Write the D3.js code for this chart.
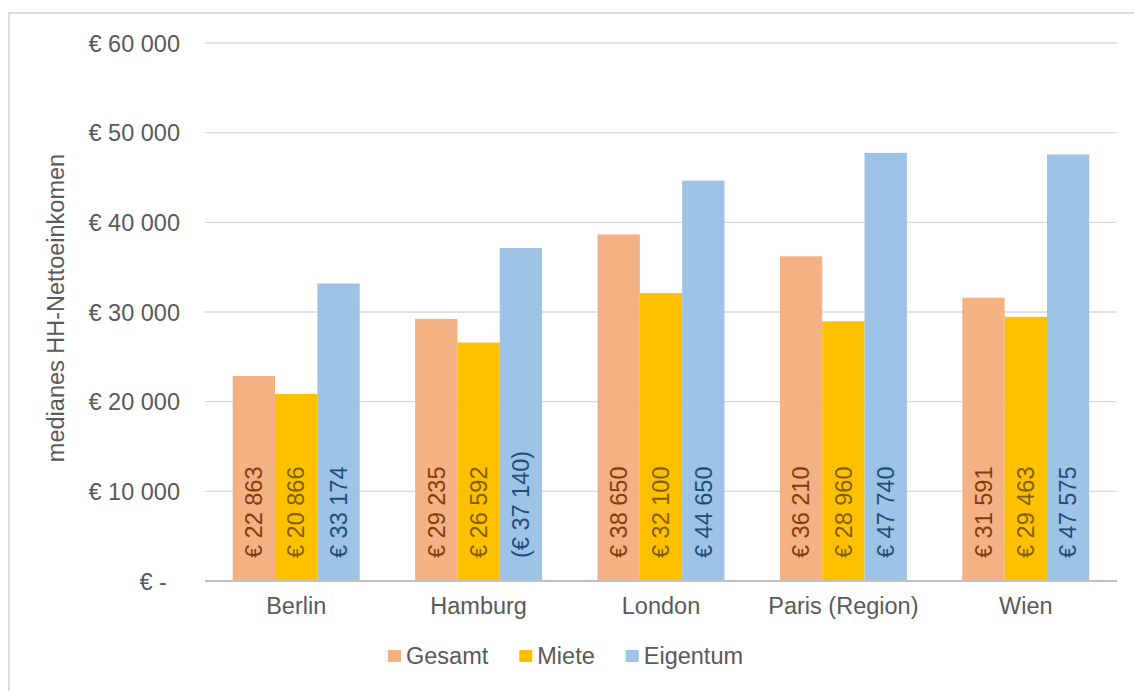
<!DOCTYPE html>
<html>
<head>
<meta charset="utf-8">
<script src="https://cdn.jsdelivr.net/npm/d3@7"></script>
<style>
  html, body { margin: 0; padding: 0; background: #fff; }
  svg { display: block; font-family: Arial, "Liberation Sans", sans-serif; }
</style>
</head>
<body>
<div id="chart"></div>
<script>
// Daten
const cities = ["Berlin", "Hamburg", "London", "Paris (Region)", "Wien"];
const seriesNames = ["Gesamt", "Miete", "Eigentum"];
const gesamt = [22863, 29235, 38650, 36210, 31591];
const miete = [20866, 26592, 32100, 28960, 29463];
const eigentum = [33174, 37140, 44650, 47740, 47575];
const eigentumLabels = ["€ 33 174", "(€ 37 140)", "€ 44 650", "€ 47 740", "€ 47 575"];
const yTicks = [0, 10000, 20000, 30000, 40000, 50000, 60000];

const colors = { Gesamt: "#f4b183", Miete: "#ffc000", Eigentum: "#9dc3e6" };
const labelColors = { Gesamt: "#843c0c", Miete: "#7f6000", Eigentum: "#1f4e79" };

const W = 1134, H = 691;
const fs = 23.5;
const fmt = v => v === 0 ? "€ -\u00a0\u00a0" : "€ " + d3.format(",")(v).replace(/,/g, " ");

const svg = d3.select("#chart").append("svg")
    .attr("width", W)
    .attr("height", H);

// Rahmen
svg.append("rect")
    .attr("x", 9).attr("y", 13)
    .attr("width", 1300).attr("height", 900)
    .attr("fill", "none")
    .attr("stroke", "#d9d9d9")
    .attr("stroke-width", 1.8);

const plot = { left: 205, right: 1117, top: 43, bottom: 581 };

const x0 = d3.scaleBand()
    .domain(cities)
    .range([plot.left, plot.right])
    .paddingInner(0.304)
    .paddingOuter(0.152);

const x1 = d3.scaleBand()
    .domain(seriesNames)
    .range([0, x0.bandwidth()]);

const y = d3.scaleLinear()
    .domain([0, 60000])
    .range([plot.bottom, plot.top]);

// Gitterlinien
svg.append("g")
    .selectAll("line")
    .data(yTicks.filter(t => t > 0))
    .enter().append("line")
    .attr("x1", plot.left).attr("x2", plot.right)
    .attr("y1", d => y(d)).attr("y2", d => y(d))
    .attr("stroke", "#d9d9d9")
    .attr("stroke-width", 1.3);

// Y-Achse Beschriftung
const yAxis = d3.axisLeft(y).tickValues(yTicks).tickFormat(fmt).tickSize(0).tickPadding(0);
const yg = svg.append("g")
    .attr("transform", "translate(180,0)")
    .call(yAxis);
yg.select(".domain").remove();
yg.selectAll("text")
    .attr("fill", "#595959")
    .style("font-size", fs + "px")
    .style("font-family", "Arial, 'Liberation Sans', sans-serif")
    .attr("dy", "0.35em");

// Achsentitel
svg.append("text")
    .attr("transform", "translate(64,308) rotate(-90)")
    .attr("text-anchor", "middle")
    .attr("fill", "#595959")
    .style("font-size", fs + "px")
    .text("medianes HH-Nettoeinkomen");

const rows = cities.map((c, i) => ({
    city: c,
    values: [
        { key: "Gesamt", value: gesamt[i], label: fmt(gesamt[i]) },
        { key: "Miete", value: miete[i], label: fmt(miete[i]) },
        { key: "Eigentum", value: eigentum[i], label: eigentumLabels[i] }
    ]
}));

const groups = svg.append("g")
    .selectAll("g")
    .data(rows)
    .enter().append("g")
    .attr("transform", d => `translate(${x0(d.city)},0)`);

// Balken
groups.selectAll("rect")
    .data(d => d.values)
    .enter().append("rect")
    .attr("x", d => x1(d.key))
    .attr("y", d => y(d.value))
    .attr("width", x1.bandwidth())
    .attr("height", d => y(0) - y(d.value))
    .attr("fill", d => colors[d.key]);

// Datenbeschriftungen
groups.selectAll("text")
    .data(d => d.values)
    .enter().append("text")
    .attr("transform", d => `translate(${x1(d.key) + x1.bandwidth() / 2},${y(0) - 23}) rotate(-90)`)
    .attr("dy", "0.35em")
    .attr("fill", d => labelColors[d.key])
    .style("font-size", fs + "px")
    .text(d => d.label);

// X-Achse
svg.append("line")
    .attr("x1", plot.left).attr("x2", plot.right)
    .attr("y1", y(0)).attr("y2", y(0))
    .attr("stroke", "#bfbfbf")
    .attr("stroke-width", 2.2);

svg.append("g")
    .selectAll("text")
    .data(cities)
    .enter().append("text")
    .attr("x", d => x0(d) + x0.bandwidth() / 2)
    .attr("y", 614)
    .attr("text-anchor", "middle")
    .attr("fill", "#595959")
    .style("font-size", fs + "px")
    .text(d => d);

// Legende
const legend = svg.append("g").attr("transform", "translate(388,656)");
let lx = 0;
seriesNames.forEach(name => {
    const item = legend.append("g").attr("transform", `translate(${lx},0)`);
    item.append("rect")
        .attr("x", 0).attr("y", -6)
        .attr("width", 13).attr("height", 12)
        .attr("fill", colors[name]);
    const t = item.append("text")
        .attr("x", 18)
        .attr("dy", "0.35em")
        .attr("fill", "#595959")
        .style("font-size", fs + "px")
        .text(name);
    lx += 18 + t.node().getComputedTextLength() + 31;
});
</script>
</body>
</html>
